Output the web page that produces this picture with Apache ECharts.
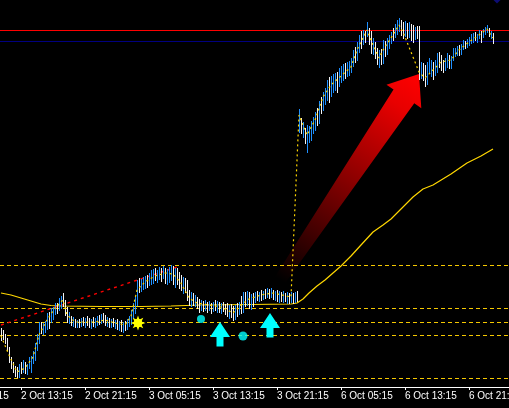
<!DOCTYPE html>
<html><head><meta charset="utf-8">
<script src="https://cdn.jsdelivr.net/npm/echarts@6/dist/echarts.min.js"></script>
<style>html,body{margin:0;padding:0;background:#000;}#c{width:509px;height:408px;}</style>
</head><body><div id="c"></div>
<script>
// ---- data (price in points, bar index on x; 8 hours = 32 bars of 15 min) ----
const firstBar = -10;
const highs = [
 59,57,53,49,40, 30,25,21,20,23, 25,27,25,23,30, 31,36,44,53,65, 65,64,66,74,75, 79,80,84,84,89, 91,94,87,80,75, 71,70,68,67,68,
 69,70,69,71,69, 68,70,69,71,72, 73,74,72,70,69, 68,69,67,68,66, 67,65,66,68,71, 77,84,91,
 107,109,108,110,111, 112,114,117,118,119, 117,120,119,121,119, 118,120,122,121,119, 119,115,112,110,109, 107,97,95,94,92, 90,
 88,87,86,87,85, 86,84,85,87,86, 85,84,85,83,84, 82,83,81,82,84, 85,91,95,95,96, 95,93,94,95,96, 95,97,96,98,99, 98,99,97,96,97, 96,95,96,94,95, 94,95,94,95,96,
 278,269,265,259,262, 261,266,270,275,279, 286,290,295,299,307, 310,311,313,314,315, 319,321,323,324,325, 326,329,337,340,345,
 352,356,357,356,365, 359,356,349,345,339, 337,338,347,346,349, 352,355,359,363,367, 369,367,365,366,364, 365,363,362,360,361,
 361,325,324,322,325, 329,327,325,327,334, 335,332,327,329,334, 332,331,339,339,341, 342,343,347,346,348, 350,353,354,355,353,
 357,356,358,360,362, 359,356,354
];
const lows = [
 47,48,44,37,25, 19,15,11,10,10, 14,15,14,13,19, 15,24,27,37,44, 54,53,55,58,59, 65,68,73,74,77, 79,81,72,65,64, 62,61,60,60,60,
 61,62,60,62,60, 59,61,60,62,63, 64,65,62,61,60, 60,61,59,58,57, 56,55,57,58,61, 63,69,74,
 82,95,96,98,99, 100,102,103,104,107, 105,108,106,109,104, 103,105,107,103,100, 103,99,97,94,95, 87,82,81,82,81, 79,
 75,77,76,77,75, 77,74,76,77,75, 75,74,76,73,71, 69,70,67,68,71, 73,74,75,81,82, 79,78,81,85,87, 86,87,88,89,90, 89,90,88,87,86, 85,86,85,86,84, 84,85,84,85,86,
 255,254,250,244,235, 245,247,254,257,262, 264,274,277,283,287, 285,291,295,297,295, 301,305,307,309,311, 312,315,321,325,327,
 335,339,343,345,351, 343,334,333,329,323, 320,323,324,331,333, 339,344,347,350,353, 356,352,349,351,349, 350,347,345,348,349,
 308,309,307,301,303, 315,311,308,312,315, 320,317,315,317,320, 319,319,327,331,332, 332,333,338,339,340, 342,344,345,347,345,
 349,345,350,353,355, 351,349,344
];
const closes = [
 49,48,45,38,27, 20,16,13,11,18, 16,22,16,20,26, 28,34,42,51,62, 56,61,63,72,67, 77,78,82,76,87, 89,83,74,67,70, 64,66,62,64,63,
 66,64,67,65,63, 66,64,67,69,67, 71,69,65,67,63, 66,64,65,61,63, 59,62,60,65,67, 74,81,88,
 104,100,105,107,109, 104,111,114,116,110, 113,118,110,117,106, 115,118,120,106,114, 105,101,99,106,97, 89,86,92,84,88, 81,
 77,84,79,85,78, 83,77,82,80,84, 78,81,79,77,74, 79,73,71,77,75, 82,75,91,87,93, 82,89,86,92,90, 93,91,94,92,96, 91,95,90,93,89, 91,88,92,87,90, 86,89,87,91,89,
 272,258,262,247,256, 258,264,268,273,266, 284,278,293,296,304, 290,308,310,312,300, 316,318,321,313,322, 324,327,335,330,343,
 349,344,354,352,360, 346,337,343,333,326, 331,327,344,336,346, 349,353,350,360,364, 366,355,352,361,354, 358,350,348,352,351,
 312,322,310,304,318, 322,325,314,324,331, 326,320,318,326,331, 324,329,337,338,340, 335,342,345,341,347, 348,352,353,349,352,
 356,347,357,359,361, 353,354,346
];
// yellow dotted indicator line, read at sample bars
const dotX = [-10,-6,-2,2,6,9,13,17,21,23,27,32,37,42,47,52,55,58,62,67,72,76,80,84,88,94,100,106,110,114,120,126,135,
              139,143,147,151,155,160,165,168,171,173,176,179,181,185,189,191,199,202,206,210,215,219,224,229,233,236];
const dotY = [51,32,15,19,30,52,67,79,87,72,65,65,65,67,64,62,71,97,105,111,114,113,104,89,84,82,80,74,82,88,92,94,90,
              272,252,267,290,302,311,320,337,349,357,342,329,337,349,362,355,315,309,317,325,327,337,345,352,358,349];
// moving average, read at sample bars
const maX = [-10,-5,0,5,10,15,20,40,60,75,90,115,135,138,141,144,148,152,160,165,170,176,181,185,190,196,201,206,215,223,230,236];
const maY = [94,92,89,86,83,81.5,81,80.5,80.5,81,82,82.5,83,84,88,94,101,107,121,131,142,155,162,168,178,190,198,202,213,224,231,238];
// time axis
const tickStart = -32, tickStep = 32;
const tickLabels = ["2 Oct 05:15","2 Oct 13:15","2 Oct 21:15","3 Oct 05:15","3 Oct 13:15","3 Oct 21:15","6 Oct 05:15","6 Oct 13:15","6 Oct 21:15"];
// levels
const redLevel = 357;
const navyLevel = 346;
const dashLevels = [122, 79, 65, 52, 9];
// objects
const trendX = [-10, 78], trendY = [62, 120];
const starPoint = [58.5, 64];
const cyanDotX = [90, 111], cyanDotY = [68, 51], cyanDotSize = [8, 9];
const cyanArrowX = [99.5, 124.5], cyanArrowY = [65, 74];
const bigArrowTail = [129.5, 107], bigArrowTip = [199, 313];
const shiftMarker = [238, 387];

// ---- chart ----
const xMin = -32, xMax = 244, yMin = 0, yMax = 387;
const BLUE = '#1E90FF', WHITE = '#F4F4F4', YEL = '#FFD700', DASHY = '#F5C800', CYAN = '#00FFFF';

const barUp = closes.map((c, i) => i > 0 && c > closes[i - 1]);
const barData = highs.map((h, i) => [firstBar + i, lows[i], h]);
const dotLine = dotX.map((x, i) => [x, dotY[i]]);
const maLine = maX.map((x, i) => [x, maY[i]]);

// crisp full-width horizontal level line (1px filled rectangles)
function hLine(v, color, dash, z) {
  return { type: 'custom', z: z, silent: true, animation: false, data: [[xMin, v]], encode: { x: 0, y: 1 },
    renderItem: function (params, api) {
      const cs = params.coordSys;
      const y = Math.round(api.coord([api.value(0), api.value(1)])[1]);
      if (!dash) return { type: 'rect', shape: { x: cs.x, y: y, width: cs.width, height: 1 }, style: { fill: color } };
      const kids = [];
      for (let x = 0; x < cs.width + cs.x; x += dash[0] + dash[1]) {
        kids.push({ type: 'rect', shape: { x: x, y: y, width: dash[0], height: 1 }, style: { fill: color } });
      }
      return { type: 'group', children: kids };
    } };
}

const series = [];
// gradient red arrow
series.push({
  type: 'custom', z: 1, silent: true, animation: false,
  data: [[bigArrowTail[0], bigArrowTail[1], bigArrowTip[0], bigArrowTip[1]]],
  encode: { x: [0, 2], y: [1, 3] },
  renderItem: function (params, api) {
    const t = api.coord([api.value(0), api.value(1)]);
    const h = api.coord([api.value(2), api.value(3)]);
    const dx = h[0] - t[0], dy = h[1] - t[1], L = Math.hypot(dx, dy);
    const u = [dx / L, dy / L], n = [-u[1], u[0]];
    const headLen = 27, headHalf = 21, shaftHalf = 12.5, tailHalf = 6;
    const b = [h[0] - u[0] * headLen, h[1] - u[1] * headLen];
    const P = (p, k) => [p[0] + n[0] * k, p[1] + n[1] * k];
    const pts = [P(t, tailHalf), P(b, shaftHalf), P(b, headHalf), h, P(b, -headHalf), P(b, -shaftHalf), P(t, -tailHalf)];
    return { type: 'polygon', shape: { points: pts },
      style: { fill: new echarts.graphic.LinearGradient(t[0], t[1], h[0], h[1],
        [{ offset: 0, color: '#000000' }, { offset: 0.5, color: '#8C0000' }, { offset: 0.85, color: '#E80000' }, { offset: 1, color: '#FF0000' }], true) } };
  }
});
series.push(hLine(redLevel, '#FF0000', null, 2));
series.push(hLine(navyLevel, '#000080', null, 2));
dashLevels.forEach(v => series.push(hLine(v, DASHY, [4, 3], 2)));
series.push({ type: 'line', data: maLine, symbol: 'none', z: 3, silent: true, animation: false,
  lineStyle: { color: YEL, width: 1.2 } });
series.push({ type: 'line', data: [[trendX[0], trendY[0]], [trendX[1], trendY[1]]], symbol: 'none', z: 3, silent: true,
  animation: false, lineStyle: { color: '#FF0000', width: 1.4, type: [3, 4] } });
// price bars (blue = up, white = down), 1px filled columns
series.push({
  type: 'custom', z: 4, silent: true, animation: false, data: barData, encode: { x: 0, y: [1, 2] },
  renderItem: function (params, api) {
    const lo = api.coord([api.value(0), api.value(1)]);
    const hi = api.coord([api.value(0), api.value(2)]);
    const x = Math.round(lo[0]);
    const yTop = Math.round(hi[1]), yBot = Math.round(lo[1]);
    return { type: 'rect', shape: { x: x, y: yTop, width: 1, height: yBot - yTop + 1 },
      style: { fill: barUp[params.dataIndex] ? BLUE : WHITE, stroke: null } };
  }
});
// yellow dotted indicator line
series.push({ type: 'line', data: dotLine, symbol: 'none', z: 5, silent: true, animation: false,
  lineStyle: { color: YEL, width: 1.2, type: [2, 3] } });
// cyan dots
series.push({ type: 'scatter', z: 6, silent: true, animation: false,
  data: cyanDotX.map((x, i) => ({ value: [x, cyanDotY[i]], symbolSize: cyanDotSize[i] })),
  symbol: 'circle', itemStyle: { color: CYAN } });
// cyan arrows
series.push({
  type: 'custom', z: 6, silent: true, animation: false,
  data: cyanArrowX.map((x, i) => [x, cyanArrowY[i]]), encode: { x: 0, y: 1 },
  renderItem: function (params, api) {
    const p = api.coord([api.value(0), api.value(1)]);
    const s = [[0, 0], [10, 15], [3.5, 15], [3.5, 24.5], [-3.5, 24.5], [-3.5, 15], [-10, 15]];
    return { type: 'polygon', shape: { points: s.map(q => [p[0] + q[0], p[1] + q[1]]) }, style: { fill: CYAN } };
  }
});
// yellow star
series.push({
  type: 'custom', z: 6, silent: true, animation: false, data: [starPoint], encode: { x: 0, y: 1 },
  renderItem: function (params, api) {
    const p = api.coord([api.value(0), api.value(1)]);
    const pts = [];
    for (let k = 0; k < 16; k++) {
      const r = k % 2 === 0 ? 7.5 : 3.8, a = k * Math.PI / 8 - Math.PI / 2;
      pts.push([p[0] + r * Math.cos(a), p[1] + r * Math.sin(a)]);
    }
    return { type: 'group', children: [
      { type: 'polygon', shape: { points: pts }, style: { fill: '#FFFF00' } },
      { type: 'circle', shape: { cx: p[0], cy: p[1], r: 4.2 }, style: { fill: '#FFFF00' } }
    ] };
  }
});
// chart-shift marker
series.push({ type: 'scatter', z: 6, silent: true, animation: false, clip: false, data: [shiftMarker],
  symbol: 'triangle', symbolRotate: 180, symbolSize: [14, 7], itemStyle: { color: '#101090' } });

const chart = echarts.init(document.getElementById('c'), null, { renderer: 'canvas' });
chart.setOption({
  backgroundColor: '#000000',
  animation: false,
  grid: { left: -43, right: 0, top: 0, bottom: 21, containLabel: false, outerBoundsMode: 'none' },
  xAxis: {
    type: 'value', min: xMin, max: xMax, interval: tickStep,
    axisLine: { show: true, lineStyle: { color: '#FFFFFF', width: 1 } },
    axisTick: { show: true, length: 3, lineStyle: { color: '#FFFFFF' } },
    splitLine: { show: false },
    axisLabel: {
      color: '#FFFFFF', fontSize: 10, fontFamily: 'Liberation Sans, Arial, sans-serif', align: 'left', margin: 4,
      showMaxLabel: false,
      formatter: v => ((v - tickStart) % tickStep === 0) ? (tickLabels[(v - tickStart) / tickStep] || '') : ''
    }
  },
  yAxis: { type: 'value', min: yMin, max: yMax, show: false, splitLine: { show: false } },
  series: series
});
</script></body></html>
